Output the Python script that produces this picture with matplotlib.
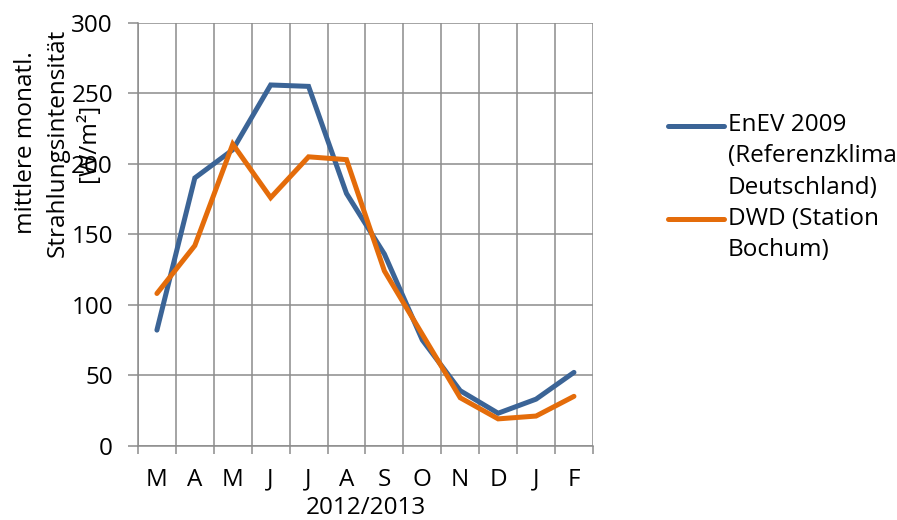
import numpy as np
import matplotlib
matplotlib.use("Agg")
import matplotlib.pyplot as plt
from matplotlib.legend_handler import HandlerLine2D
from matplotlib.ticker import FixedLocator

months = ["M", "A", "M", "J", "J", "A", "S", "O", "N", "D", "J", "F"]
enev = [82, 190, 210, 256, 255, 179, 136, 75, 39, 23, 33, 52]
dwd = [108, 142, 214, 176, 205, 203, 124, 79, 34, 19, 21, 35]
labels = ["EnEV 2009\n(Referenzklima\nDeutschland)", "DWD (Station\nBochum)"]
colors = ["#3B6496", "#E46C0A"]

plt.rcParams["font.family"] = ["Open Sans", "DejaVu Sans"]
FS = 17.5
LS = 1.42
grid_c = "#8C8C8C"


class TopLineHandler(HandlerLine2D):
    # put the legend line next to the first line of a multi-line label
    def __init__(self, nlines, step, **kw):
        super().__init__(**kw)
        self.nlines = nlines
        self.step = step

    def create_artists(self, legend, orig_handle, xdescent, ydescent,
                       width, height, fontsize, trans):
        arts = super().create_artists(legend, orig_handle, xdescent, ydescent,
                                      width, height, fontsize, trans)
        for a in arts:
            a.set_ydata(np.asarray(a.get_ydata()) + (self.nlines - 1) / 2 * self.step)
        return arts


fig = plt.figure(figsize=(8.97, 5.20), dpi=100)
ax = fig.add_axes([0.1538, 0.143, 0.661 - 0.1538, 0.9558 - 0.143])

x = np.arange(1, len(months) + 1)
l1, = ax.plot(x, enev, color=colors[0], lw=3.6, solid_capstyle="round",
              solid_joinstyle="miter", label=labels[0], zorder=3)
l2, = ax.plot(x, dwd, color=colors[1], lw=3.6, solid_capstyle="round",
              solid_joinstyle="miter", label=labels[1], zorder=4)

ax.set_xlim(0.5, len(months) + 0.5)
ax.set_ylim(0, 300)
ax.set_yticks(np.arange(0, 301, 50))
ax.set_xticks(x)
ax.set_xticklabels(months)
ax.xaxis.set_minor_locator(FixedLocator(np.arange(0.5, len(months) + 1, 1)))

ax.grid(True, which="major", axis="y", color=grid_c, lw=1.1)
ax.grid(True, which="minor", axis="x", color=grid_c, lw=1.1)
ax.set_axisbelow(True)
for s in ["top", "right"]:
    ax.spines[s].set_visible(False)
for s in ["left", "bottom"]:
    ax.spines[s].set_color(grid_c)
    ax.spines[s].set_linewidth(1.1)

ax.tick_params(axis="y", which="major", length=7, width=1.1, color=grid_c,
               pad=11, labelsize=FS)
ax.tick_params(axis="x", which="major", length=0, pad=16, labelsize=FS)
ax.tick_params(axis="x", which="minor", length=6, width=1.1, color=grid_c)
ax.set_xlabel("2012/2013", fontsize=FS, labelpad=3)

fig.text(0.064, 0.725, "mittlere monatl.\nStrahlungsintensität\n[W/m²]",
         rotation=90, ha="center", va="center", fontsize=FS,
         multialignment="center", linespacing=1.4)

step = 22.4
leg = ax.legend(handles=[l1, l2], loc="upper left",
                bbox_to_anchor=(0.7447, 0.783), bbox_transform=fig.transFigure,
                frameon=False, fontsize=FS, handlelength=2.3,
                handletextpad=0.17, labelspacing=0.28, borderaxespad=0,
                borderpad=0,
                handler_map={l1: TopLineHandler(3, step),
                             l2: TopLineHandler(2, step)})
for t in leg.get_texts():
    t.set_linespacing(LS)

fig.savefig("out.png", dpi=100)
